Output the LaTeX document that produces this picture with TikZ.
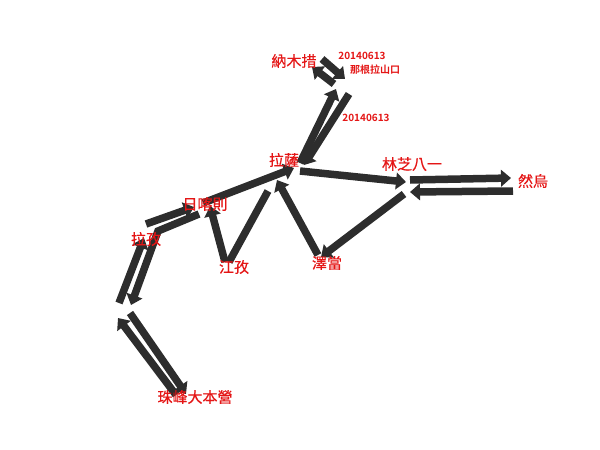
\documentclass[tikz,border=0pt]{standalone}
\usepackage{fontspec}
\newfontfamily\cjk[FakeBold=0.6]{Noto Sans CJK TC}
\newfontfamily\cjkbold{Noto Sans CJK TC Bold}
\usetikzlibrary{arrows.meta}
\definecolor{routegray}{RGB}{45,45,45}
\definecolor{placered}{RGB}{228,22,22}

\begin{document}
\begin{tikzpicture}[x=1pt,y=-1pt,
    route/.style={draw=routegray,line width=7.5pt,-{Triangle[width=16.5pt,length=10pt]}},
    plain/.style={draw=routegray,line width=7.5pt},
    place/.style={text=placered,inner sep=0pt,font=\cjk\fontsize{15}{15}\selectfont},
    note/.style={text=placered,inner sep=0pt,font=\cjkbold\fontsize{10}{10}\selectfont}]

    \useasboundingbox (0,0) rectangle (600,450);

    % Lhasa - Namtso
    \coordinate (ls1) at (300,163);
    \coordinate (ng1) at (336,89);
    \coordinate (ng2) at (349,94);
    \coordinate (ls2) at (304,165);
    \coordinate (ng3) at (334,84);
    \coordinate (nt1) at (312,67);
    \coordinate (nt2) at (322,59);
    \coordinate (ng4) at (345,79);
    \draw [route] (ls1) -- (ng1);
    \draw [route] (ng2) -- (ls2);
    \draw [route] (ng3) -- (nt1);
    \draw [route] (nt2) -- (ng4);

    % Lhasa - Nyingchi - Rawu - Tsetang
    \coordinate (ls3) at (300,171);
    \coordinate (nc1) at (406,182);
    \coordinate (nc2) at (410,180);
    \coordinate (rw1) at (511,178);
    \coordinate (rw2) at (513,191);
    \coordinate (nc3) at (410,192);
    \coordinate (nc4) at (404,194);
    \coordinate (tt1) at (321,257);
    \coordinate (tt2) at (318,255);
    \coordinate (ls4) at (277,180);
    \draw [route] (ls3) -- (nc1);
    \draw [route] (nc2) -- (rw1);
    \draw [route] (rw2) -- (nc3);
    \draw [route] (nc4) -- (tt1);
    \draw [route] (tt2) -- (ls4);

    % Lhasa - Gyantse - Shigatse
    \coordinate (ls5) at (268,191);
    \coordinate (gy1) at (229,262);
    \coordinate (gy2) at (225,262);
    \coordinate (sg1) at (210,206);
    \coordinate (sg2) at (203,203);
    \coordinate (ls6) at (294,168);
    \draw [plain] (ls5) -- (gy1);
    \draw [route] (gy2) -- (sg1);
    \draw [route] (sg2) -- (ls6);

    % Shigatse - Lhatse - EBC
    \coordinate (lz1) at (146,224);
    \coordinate (sg3) at (194,207);
    \coordinate (sg4) at (199,214);
    \coordinate (lz2) at (158,231);
    \coordinate (lz3) at (131,305);
    \coordinate (lz4) at (119,303);
    \coordinate (lz5) at (144,238);
    \coordinate (eb1) at (130,313);
    \coordinate (eb2) at (186,394);
    \coordinate (eb3) at (176,395);
    \coordinate (eb4) at (118,318);
    \draw [route] (lz1) -- (sg3);
    \draw [route] (sg4) -- (lz2) -- (lz3);
    \draw [route] (lz4) -- (lz5);
    \draw [route] (eb1) -- (eb2);
    \draw [route] (eb3) -- (eb4);

    \node [place] (namtso) at (294,61) {納木措};
    \node [note] (date1) at (362,56) {20140613};
    \node [note] (nagenla) at (375,70) {那根拉山口};
    \node [note] (date2) at (366,118) {20140613};
    \node [place] (lhasa) at (284,160) {拉薩};
    \node [place] (nyingchi) at (412,164) {林芝八一};
    \node [place] (rawu) at (533,181) {然烏};
    \node [place] (shigatse) at (205,204) {日喀則};
    \node [place] (lhatse) at (146,239) {拉孜};
    \node [place] (gyantse) at (234,267) {江孜};
    \node [place] (tsetang) at (327,263) {澤當};
    \node [place] (ebc) at (195,397) {珠峰大本營};

\end{tikzpicture}
\end{document}
